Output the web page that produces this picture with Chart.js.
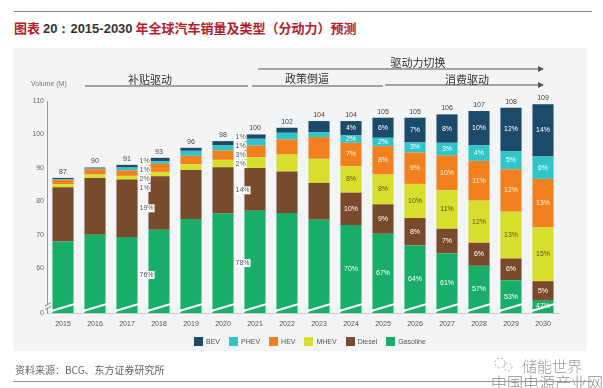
<!DOCTYPE html>
<html>
<head>
<meta charset="utf-8">
<script src="https://cdn.jsdelivr.net/npm/chart.js@4.4.1/dist/chart.umd.min.js"></script>
<style>
body{margin:0;background:#fff;font-family:"Liberation Sans",Arial,"Noto Sans CJK SC",sans-serif;}
#page{position:relative;width:603px;height:388px;overflow:hidden;background:#fff;}
.abs{position:absolute;white-space:nowrap;}
#panel{left:13px;top:48px;width:574px;height:303px;background:#f3f4f6;}
#topline{left:14px;top:11px;width:578px;height:0;border-top:1.5px solid #8a8a8a;}
#title{left:14px;top:18px;font-size:13px;font-weight:bold;color:#b5202b;font-family:"Noto Sans CJK SC",sans-serif;}
#title .num{color:#333;font-family:"Liberation Sans",Arial,sans-serif;font-weight:bold;}
#chartbox{left:0;top:0;width:603px;height:388px;}
#unit{left:31px;top:80px;font-size:7px;color:#777;}
.note{font-size:11px;color:#333;font-family:"Noto Sans CJK SC",sans-serif;transform:translateX(-50%);}
#legend{left:194px;top:337px;display:flex;align-items:center;font-size:7px;color:#555;}
#legend span.box{display:inline-block;width:9px;height:9px;margin-right:3px;}
#legend span.item{display:flex;align-items:center;margin-right:9px;}
#source{left:15px;top:362px;font-size:10px;color:#666;font-family:"Noto Sans CJK SC",sans-serif;}
#srcline{left:13px;top:381px;width:578px;height:0;border-top:1px solid #999;}
#wm1{left:522px;top:355px;font-size:15px;color:#9c9c9c;font-family:"Noto Sans CJK SC",sans-serif;font-weight:300;}
#wm2{left:491px;top:370px;font-size:16px;color:#8e8e8e;font-family:"Noto Sans CJK SC",sans-serif;font-weight:300;}
</style>
</head>
<body>
<div id="page">
  <div class="abs" id="topline"></div>
  <div class="abs" id="title">图表 <span class="num">20：2015-2030</span> 年全球汽车销量及类型（分动力）预测</div>
  <div class="abs" id="panel"></div>
  <div class="abs" id="chartbox"><canvas id="chart"></canvas></div>
  <div class="abs" id="unit">Volume (M)</div>
  <svg class="abs" style="left:0;top:0" width="603" height="388">
    <defs>
      <marker id="arr" markerWidth="6" markerHeight="6" refX="5" refY="3" orient="auto">
        <path d="M0,0 L6,3 L0,6 z" fill="#555"/>
      </marker>
    </defs>
    <line x1="85" y1="86" x2="248" y2="86" stroke="#555" stroke-width="1"/>
    <line x1="252" y1="86" x2="383" y2="86" stroke="#555" stroke-width="1"/>
    <line x1="258" y1="69" x2="543" y2="69" stroke="#555" stroke-width="1" marker-end="url(#arr)"/>
    <line x1="385" y1="85" x2="543" y2="85" stroke="#555" stroke-width="1" marker-end="url(#arr)"/>
    <circle cx="500" cy="363" r="5" fill="none" stroke="#aaa" stroke-dasharray="2,2"/>
    <circle cx="508" cy="367" r="4" fill="none" stroke="#aaa" stroke-dasharray="2,2"/>
  </svg>
  <div class="abs note" style="left:150px;top:71px">补贴驱动</div>
  <div class="abs note" style="left:307px;top:70px">政策倒逼</div>
  <div class="abs note" style="left:418px;top:54px">驱动力切换</div>
  <div class="abs note" style="left:467px;top:71px">消费驱动</div>
  <div class="abs" id="legend"></div>
  <div class="abs" id="source">资料来源：BCG、东方证券研究所</div>
  <div class="abs" id="srcline"></div>
  <div class="abs" id="wm1">储能世界</div>
  <div class="abs" id="wm2">中国电源产业网</div>
</div>
<script>
// categories
var years = ['2015','2016','2017','2018','2019','2020','2021','2022','2023','2024','2025','2026','2027','2028','2029','2030'];
// volumes in millions
var gasoline = [68.0, 70.0, 69.3, 71.5, 74.7, 76.4, 77.2, 76.5, 74.5, 72.9, 70.3, 66.8, 64.5, 60.7, 56.4, 50.5];
var diesel   = [16.2, 17.0, 17.2, 16.0, 14.7, 13.8, 12.8, 12.4, 11.0,  9.7,  8.8,  8.2,  7.3,  6.9,  6.5,  5.6];
var mhev     = [ 0.9,  1.0,  1.1,  1.3,  1.7,  2.2,  3.2,  5.1,  7.2,  7.9,  8.9, 10.2, 11.5, 12.6, 14.0, 16.1];
var hev      = [ 1.3,  1.6,  1.7,  2.4,  2.5,  2.8,  3.5,  4.5,  6.5,  7.0,  8.5,  9.4, 10.4, 11.9, 12.7, 14.5];
var phev     = [ 0.2,  0.2,  0.8,  0.8,  1.5,  1.5,  2.0,  2.0,  1.5,  2.2,  2.5,  3.0,  3.8,  4.7,  5.4,  6.7];
var bev      = [ 0.4,  0.3,  0.8,  1.0,  0.9,  1.3,  1.3,  1.5,  3.3,  4.3,  6.0,  7.4,  8.5, 10.2, 13.0, 15.6];
var totals   = [87, 90, 91, 93, 96, 98, 100, 102, 104, 104, 105, 105, 106, 107, 108, 109];

// share labels (%), null = no label
var n = null;
var gasShare    = [n,n,76,n,n,78,n,n,n,70,67,64,61,57,53,47];
var dieselShare = [n,n,19,n,n,14,n,n,n,10, 9, 8, 7, 6, 6, 5];
var mhevShare   = [n,n, 1,n,n, 2,n,n,n, 8, 8,10,11,12,13,15];
var hevShare    = [n,n, 2,n,n, 3,n,n,n, 7, 8, 9,10,11,12,13];
var phevShare   = [n,n, 1,n,n, 1,n,n,n, 2, 2, 3, 3, 4, 5, 6];
var bevShare    = [n,n, 1,n,n, 1,n,n,n, 4, 6, 7, 8,10,12,14];
var sideLabelYears = ['2017','2020'];

// y axis: broken axis, bottom shown as 0
var yTicks = [60, 70, 80, 90, 100, 110];
var yBreak = 46.6;

var names  = ['Gasoline','Diesel','MHEV','HEV','PHEV','BEV'];
var colors = ['#18ad69','#7a4a2c','#d5df2c','#f3801f','#2fc5c9','#1b4a6b'];
var series = [gasoline, diesel, mhev, hev, phev, bev];
var shares = [gasShare, dieselShare, mhevShare, hevShare, phevShare, bevShare];
var labelColors = ['#ffffff','#ffffff','#5a5a20','#fff3e6','#ffffff','#ffffff'];

var datasets = [];
for (var d = 0; d < series.length; d++) {
  datasets.push({label: names[d], data: series[d], backgroundColor: colors[d], borderWidth: 0,
                 barPercentage: 0.66, categoryPercentage: 1});
}

// html legend, in the reference order
var legendOrder = [5,4,3,2,1,0];
var lg = document.getElementById('legend');
legendOrder.forEach(function(d){
  var it = document.createElement('span');
  it.className = 'item';
  it.innerHTML = '<span class="box" style="background:' + colors[d] + '"></span>' + names[d];
  lg.appendChild(it);
});

var decorPlugin = {
  id: 'decor',
  afterDatasetsDraw: function(chart) {
    var ctx = chart.ctx, area = chart.chartArea, ys = chart.scales.y;
    ctx.save();
    // axis break slashes across bars
    var base = chart.getDatasetMeta(0).data;
    ctx.strokeStyle = '#ffffff';
    ctx.lineWidth = 2;
    for (var i = 0; i < base.length; i++) {
      var el = base[i];
      ctx.beginPath();
      ctx.moveTo(el.x - el.width/2 - 1, ys.getPixelForValue(47.2));
      ctx.lineTo(el.x + el.width/2 + 1, ys.getPixelForValue(49.3));
      ctx.stroke();
    }
    // break on y axis
    ctx.strokeStyle = '#f3f4f6';
    ctx.lineWidth = 3;
    ctx.beginPath();
    ctx.moveTo(area.left, ys.getPixelForValue(48.0));
    ctx.lineTo(area.left, ys.getPixelForValue(49.2));
    ctx.stroke();
    ctx.strokeStyle = '#888';
    ctx.lineWidth = 1;
    ctx.beginPath();
    ctx.moveTo(area.left - 2, ys.getPixelForValue(47.6));
    ctx.lineTo(area.left + 4, ys.getPixelForValue(48.6));
    ctx.moveTo(area.left - 2, ys.getPixelForValue(48.7));
    ctx.lineTo(area.left + 4, ys.getPixelForValue(49.7));
    ctx.stroke();

    ctx.font = '7px "Liberation Sans", Arial, sans-serif';
    ctx.textBaseline = 'middle';
    // totals above bars
    var tops = chart.getDatasetMeta(5).data;
    ctx.textAlign = 'center';
    ctx.fillStyle = '#444';
    for (i = 0; i < tops.length; i++) {
      ctx.fillText(String(totals[i]), tops[i].x, tops[i].y - 6);
    }
    // share labels
    for (var d = 0; d < shares.length; d++) {
      var meta = chart.getDatasetMeta(d).data;
      for (i = 0; i < years.length; i++) {
        var v = shares[d][i];
        if (v === null) continue;
        var e = meta[i];
        var bottom = Math.min(e.base, area.bottom);
        var cy = (e.y + bottom) / 2;
        var txt = v + '%';
        if (sideLabelYears.indexOf(years[i]) >= 0) {
          if (d >= 2) cy = tops[i].y - 4 + (5 - d) * 9;
          var x = e.x + e.width/2 + 2;
          var w = ctx.measureText(txt).width + 2;
          ctx.fillStyle = '#ffffff';
          ctx.fillRect(x - 1, cy - 4, w, 8);
          ctx.fillStyle = '#555';
          ctx.textAlign = 'left';
          ctx.fillText(txt, x, cy);
        } else {
          ctx.fillStyle = labelColors[d];
          ctx.textAlign = 'center';
          ctx.fillText(txt, e.x, cy);
        }
      }
    }
    ctx.restore();
  }
};

Chart.defaults.font.family = '"Liberation Sans", Arial, sans-serif';

new Chart(document.getElementById('chart'), {
  type: 'bar',
  data: { labels: years, datasets: datasets },
  options: {
    responsive: true,
    maintainAspectRatio: false,
    animation: false,
    devicePixelRatio: 1,
    layout: { padding: { left: 0, top: 101, right: 44, bottom: 55 } },
    plugins: { legend: { display: false }, tooltip: { enabled: false } },
    scales: {
      x: {
        stacked: true,
        grid: { display: false, drawTicks: false },
        border: { color: '#cccccc' },
        ticks: { font: { size: 7 }, color: '#555', padding: 7, maxRotation: 0, autoSkip: false },
        afterFit: function(s) { s.height = 20; }
      },
      y: {
        stacked: true,
        min: yBreak,
        max: 110,
        grid: { display: false, drawTicks: false },
        border: { color: '#999999' },
        afterBuildTicks: function(s) {
          s.ticks = [yBreak].concat(yTicks).map(function(v){ return {value: v}; });
        },
        ticks: {
          font: { size: 7 }, color: '#666', padding: 3,
          callback: function(v) { return v === yBreak ? '0' : v; }
        },
        afterFit: function(s) { s.width = 47; }
      }
    }
  },
  plugins: [decorPlugin]
});
</script>
</body>
</html>
